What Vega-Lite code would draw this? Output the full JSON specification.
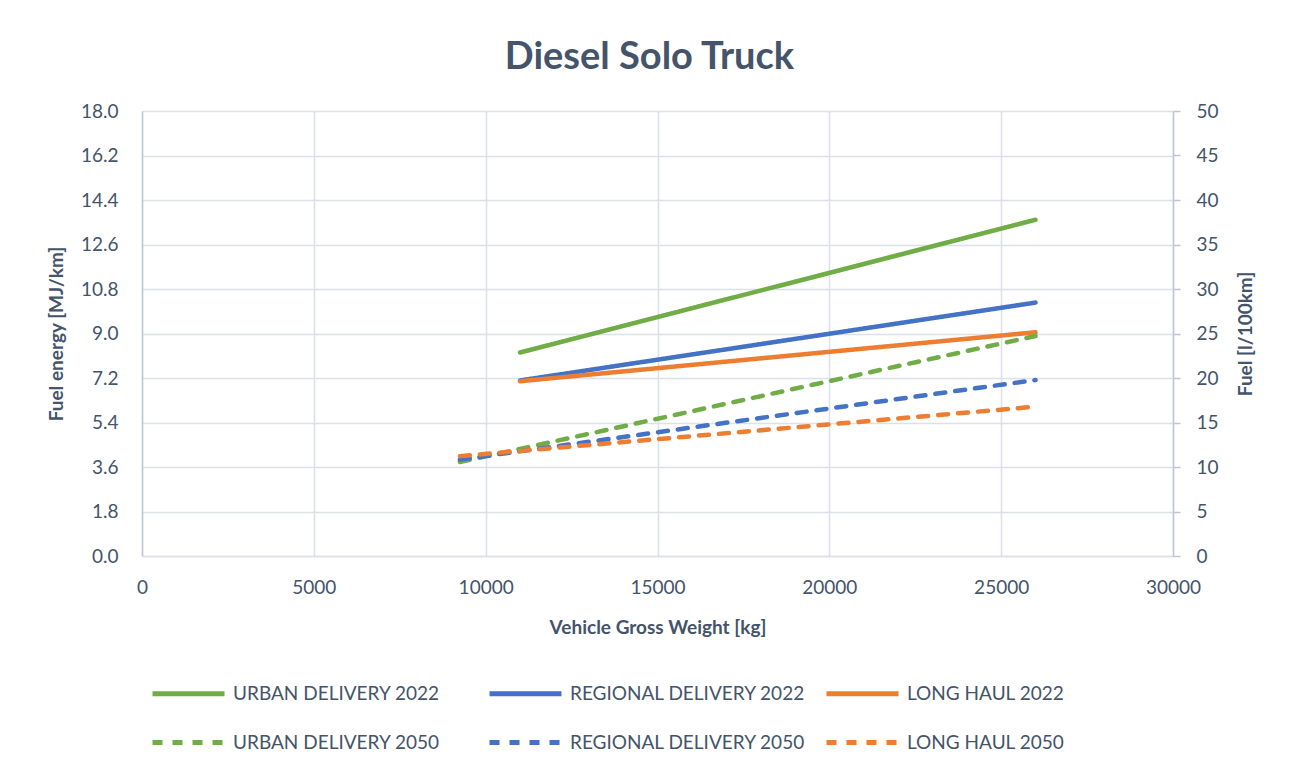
{
  "$schema": "https://vega.github.io/schema/vega-lite/v6.json",
  "width": 1031,
  "height": 445,
  "autosize": {"type": "none"},
  "padding": {"left": 142, "top": 111, "right": 119, "bottom": 213},
  "background": "white",
  "title": {"text": "Diesel Solo Truck", "font": "Lato", "fontSize": 38, "fontWeight": "bold", "color": "#44546A", "frame": "group", "anchor": "middle", "offset": 25, "dx": -8},
  "config": {
    "view": {"stroke": null},
    "font": "Lato",
    "axis": {"labelFont": "Lato", "titleFont": "Lato", "labelColor": "#44546A", "titleColor": "#44546A", "labelFontSize": 19, "titleFontSize": 19, "titleFontWeight": "bold", "gridColor": "#DCE0E8", "gridWidth": 1.5, "domainColor": "#BFC6D3", "domainWidth": 1.5, "tickColor": "#BFC6D3"},
    "legend": {"labelFont": "Lato", "labelFontSize": 19, "labelColor": "#44546A", "labelLimit": 500}
  },
  "data": {"values": [
    {"series": "URBAN DELIVERY 2022", "weight": 11000, "mj": 8.23},
    {"series": "URBAN DELIVERY 2022", "weight": 26000, "mj": 13.6},
    {"series": "REGIONAL DELIVERY 2022", "weight": 11000, "mj": 7.1},
    {"series": "REGIONAL DELIVERY 2022", "weight": 26000, "mj": 10.25},
    {"series": "LONG HAUL 2022", "weight": 11000, "mj": 7.07},
    {"series": "LONG HAUL 2022", "weight": 26000, "mj": 9.05},
    {"series": "URBAN DELIVERY 2050", "weight": 9250, "mj": 3.8},
    {"series": "URBAN DELIVERY 2050", "weight": 26000, "mj": 8.9},
    {"series": "REGIONAL DELIVERY 2050", "weight": 9250, "mj": 3.9},
    {"series": "REGIONAL DELIVERY 2050", "weight": 26000, "mj": 7.12},
    {"series": "LONG HAUL 2050", "weight": 9250, "mj": 4.04},
    {"series": "LONG HAUL 2050", "weight": 26000, "mj": 6.04}
  ]},
  "layer": [
    {
      "mark": {"type": "line", "strokeWidth": 4.5, "strokeCap": "round"},
      "encoding": {
        "x": {"field": "weight", "type": "quantitative", "scale": {"domain": [0, 30000], "nice": false},
          "axis": {"values": [0, 5000, 10000, 15000, 20000, 25000, 30000], "format": "d", "title": "Vehicle Gross Weight [kg]", "ticks": false, "labelFlush": false, "labelPadding": 22, "titlePadding": 21, "domain": true, "domainColor": "#DCE0E8", "grid": true}},
        "y": {"field": "mj", "type": "quantitative", "scale": {"domain": [0, 18], "nice": false},
          "axis": {"values": [0, 1.8, 3.6, 5.4, 7.2, 9, 10.8, 12.6, 14.4, 16.2, 18], "format": ".1f", "title": "Fuel energy [MJ/km]", "ticks": false, "labelFlush": false, "labelPadding": 24, "titlePadding": 14, "grid": true}},
        "color": {"field": "series", "type": "nominal",
          "scale": {"domain": ["URBAN DELIVERY 2022", "REGIONAL DELIVERY 2022", "LONG HAUL 2022", "URBAN DELIVERY 2050", "REGIONAL DELIVERY 2050", "LONG HAUL 2050"],
            "range": ["#70AD47", "#4472C4", "#ED7D31", "#70AD47", "#4472C4", "#ED7D31"]},
          "legend": {"orient": "none", "legendX": 8, "legendY": 544, "columns": 3, "direction": "horizontal", "title": null, "symbolType": "stroke", "symbolSize": 5184, "symbolStrokeWidth": 5, "gridAlign": "all", "columnPadding": 10, "rowPadding": -3, "labelOffset": 6}},
        "strokeDash": {"field": "series", "type": "nominal",
          "scale": {"domain": ["URBAN DELIVERY 2022", "REGIONAL DELIVERY 2022", "LONG HAUL 2022", "URBAN DELIVERY 2050", "REGIONAL DELIVERY 2050", "LONG HAUL 2050"],
            "range": [[1, 0], [1, 0], [1, 0], [10, 10], [10, 10], [10, 10]]},
          "legend": {"orient": "none", "legendX": 8, "legendY": 544, "columns": 3, "direction": "horizontal", "title": null, "symbolType": "stroke", "symbolSize": 5184, "symbolStrokeWidth": 5, "gridAlign": "all", "columnPadding": 10, "rowPadding": -3, "labelOffset": 6}}
      }
    },
    {
      "mark": {"type": "rule", "opacity": 0},
      "encoding": {
        "y": {"datum": 0, "type": "quantitative", "scale": {"domain": [0, 50], "nice": false},
          "axis": {"orient": "right", "values": [0, 5, 10, 15, 20, 25, 30, 35, 40, 45, 50], "title": "Fuel [l/100km]", "titleAngle": 270, "grid": false, "ticks": true, "tickSize": 7, "tickWidth": 1.5, "labelFlush": false, "labelPadding": 16, "titlePadding": 37}}
      }
    }
  ],
  "resolve": {"scale": {"y": "independent"}}
}
